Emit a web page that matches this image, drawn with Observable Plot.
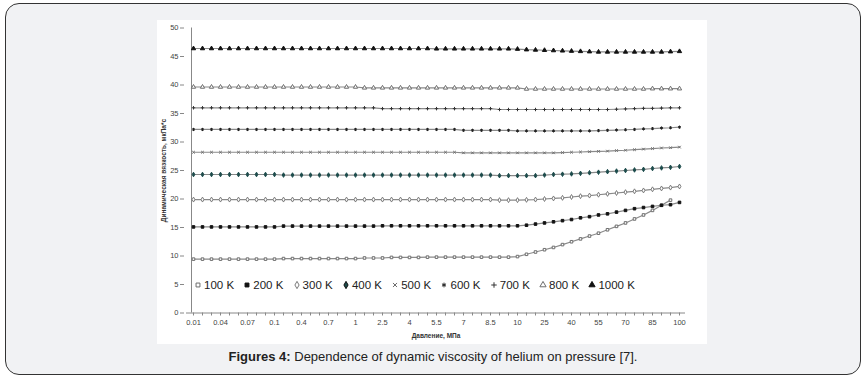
<!DOCTYPE html>
<html><head><meta charset="utf-8">
<script src="https://cdn.jsdelivr.net/npm/d3@7"></script>
<script src="https://cdn.jsdelivr.net/npm/@observablehq/plot@0.6"></script>
<style>
html,body{margin:0;padding:0;background:#fff;width:866px;height:382px;overflow:hidden;font-family:"Liberation Sans",Arial,sans-serif;}
#frame{position:absolute;left:5px;top:3px;width:854px;height:370px;border:1.5px solid #333;border-radius:14px;background:#f1f2f4;}
#panel{position:absolute;left:157px;top:20px;width:550px;height:324px;background:#fff;}
#legend{position:absolute;left:194px;top:277px;height:16px;display:flex;align-items:center;font-size:11.5px;color:#222;}
#legend .it{display:flex;align-items:center;width:49.3px;white-space:nowrap;}
#legend svg{margin-right:2px;}
#caption{position:absolute;left:0;width:866px;top:349px;text-align:center;font-size:13px;color:#222;}
</style></head>
<body>
<div id="frame"></div>
<div id="panel"></div>
<div id="legend"></div>
<div id="caption"><b>Figures 4:</b> Dependence of dynamic viscosity of helium on pressure [7].</div>
<script>
const pressures = ["0.01","0.02","0.03","0.04","0.05","0.06","0.07","0.08","0.09","0.1",
  "0.2","0.3","0.4","0.5","0.6","0.7","0.8","0.9","1",
  "1.5","2","2.5","3","3.5","4","4.5","5","5.5","6","6.5","7","7.5","8","8.5","9","9.5","10",
  "15","20","25","30","35","40","45","50","55","60","65","70","75","80","85","90","95","100"];
const tickLabels = ["0.01","0.04","0.07","0.1","0.4","0.7","1","2.5","4","5.5","7","8.5","10","25","40","55","70","85","100"];
const seriesNames = ["100 K","200 K","300 K","400 K","500 K","600 K","700 K","800 K","1000 K"];
const v100 = [9.45,9.45,9.45,9.45,9.45,9.45,9.45,9.45,9.45,9.45,
  9.55,9.55,9.55,9.55,9.55,9.55,9.55,9.55,9.55,
  9.65,9.65,9.65,9.75,9.75,9.75,9.75,
  9.8,9.8,9.8,9.8,9.8,9.8,9.8,9.8,9.8,9.8,
  9.9,10.3,10.7,11.1,11.5,12.0,12.5,13.0,13.5,14.0,14.6,15.2,15.8,16.5,17.2,18.0,18.9,19.8];
const v200 = [15.1,15.1,15.1,15.1,15.1,15.1,15.1,15.1,15.1,15.1,
  15.25,15.25,15.25,15.25,15.25,15.25,15.25,15.25,15.25,15.25,15.25,
  15.3,15.3,15.3,15.3,15.3,15.3,15.3,15.3,15.3,15.3,15.3,15.3,15.3,15.3,15.3,
  15.3,15.4,15.6,15.8,16.0,16.2,16.4,16.7,16.9,17.2,17.4,17.7,18.0,18.3,18.5,18.7,18.9,19.0,19.4];
const v300 = [19.9,19.9,19.9,19.9,19.9,19.9,19.9,19.9,19.9,19.9,19.9,19.9,19.9,19.9,19.9,19.9,19.9,
  19.9,19.9,19.9,19.9,19.9,19.9,19.9,19.9,19.9,19.9,19.9,19.9,19.9,19.9,19.9,19.9,19.9,
  19.8,19.8,
  19.8,19.85,19.9,20.0,20.1,20.2,20.35,20.5,20.6,20.75,20.9,21.05,21.2,21.35,21.5,21.7,21.85,22.0,22.2];
const v400 = [24.3,24.3,24.3,24.3,24.3,24.3,24.3,24.3,24.3,24.3,
  24.2,24.2,24.2,24.2,24.2,24.2,24.2,24.2,24.2,24.2,24.2,24.2,24.2,24.2,24.2,24.2,24.2,24.2,24.2,24.2,24.2,24.2,24.2,24.2,
  24.1,24.1,24.1,24.1,24.1,
  24.2,24.3,24.35,24.4,24.5,24.6,24.7,24.8,24.9,25.0,25.1,25.2,25.35,25.45,25.55,25.7];
const v500 = [28.2,28.2,28.2,28.2,28.2,28.2,28.2,28.2,28.2,28.2,28.2,28.2,28.2,28.2,28.2,
  28.2,28.2,28.2,28.2,28.2,28.2,28.2,28.2,28.2,28.2,28.2,28.2,28.2,28.2,28.2,
  28.1,28.1,28.1,28.1,28.1,28.1,28.1,28.1,28.1,28.1,28.1,
  28.15,28.2,28.25,28.3,28.35,28.4,28.5,28.55,28.65,28.75,28.85,28.95,29.0,29.1];
const v600 = [32.2,32.2,32.2,32.2,32.2,32.2,32.2,32.2,32.2,32.2,32.2,32.2,32.2,32.2,32.2,
  32.2,32.2,32.2,32.2,32.2,32.2,32.2,32.2,32.2,32.2,32.2,32.2,32.2,32.2,32.2,
  32.05,32.05,32.05,32.05,32.05,32.05,
  31.95,31.95,31.95,31.95,31.95,31.95,31.95,31.95,31.95,
  32.0,32.05,32.1,32.15,32.2,32.3,32.35,32.45,32.5,32.6];
const v700 = [36.0,36.0,36.0,36.0,36.0,36.0,36.0,36.0,36.0,36.0,36.0,36.0,36.0,36.0,36.0,36.0,36.0,36.0,36.0,36.0,36.0,
  35.85,35.85,35.85,35.85,35.85,35.85,35.85,35.85,35.85,35.85,35.85,35.85,35.85,
  35.7,35.7,35.7,35.7,35.7,35.7,35.7,35.7,35.7,35.7,35.7,35.7,35.7,
  35.75,35.8,35.85,35.9,35.9,35.95,36.0,36.0];
const v800 = [39.65,39.65,39.65,39.65,39.65,39.65,39.65,39.65,39.65,39.65,39.65,39.65,39.65,39.65,39.65,39.65,39.65,39.65,39.65,
  39.5,39.5,39.5,39.5,39.5,39.5,39.5,39.5,39.5,39.5,39.5,39.5,39.5,39.5,39.5,39.5,39.5,39.5,
  39.3,39.3,39.3,39.3,39.3,39.3,39.3,39.3,39.3,39.3,39.3,39.3,39.3,39.3,
  39.35,39.35,39.35,39.35];
const v1000 = [46.4,46.4,46.4,46.4,46.4,46.4,46.4,46.4,46.4,46.4,46.4,46.4,46.4,46.4,46.4,46.4,46.4,46.4,46.4,46.4,46.4,46.4,46.4,46.4,46.4,46.4,46.4,
  46.35,46.35,46.35,46.35,46.35,46.35,46.35,46.35,46.35,
  46.3,46.2,46.15,46.1,46.05,46.0,45.95,45.9,45.85,
  45.8,45.8,45.8,45.8,45.8,45.8,45.8,45.8,
  45.85,45.9];
const yTicks = [0,5,10,15,20,25,30,35,40,45,50];

const values = [v100,v200,v300,v400,v500,v600,v700,v800,v1000];
const styles = [
  {symbol:"square", fill:"#fff", stroke:"#6d6d6d", r:1.45, lr:2.2},
  {symbol:"square", fill:"#111", stroke:"#111", r:1.45, lr:2.2},
  {symbol:"diamond", fill:"#fff", stroke:"#7a7a7a", r:1.5, lr:2.2},
  {symbol:"diamond", fill:"#1d4c4c", stroke:"#1d4c4c", r:1.4, lr:2.2},
  {symbol:"times", fill:"none", stroke:"#6d6d6d", r:1.3, lr:2.0},
  {symbol:"asterisk", fill:"none", stroke:"#222", r:1.5, lr:2.2},
  {symbol:"plus", fill:"none", stroke:"#333", r:1.2, lr:1.9},
  {symbol:"triangle", fill:"#fff", stroke:"#6d6d6d", r:1.6, lr:2.3},
  {symbol:"triangle", fill:"#111", stroke:"#111", r:1.6, lr:2.3}
];
const rows = [];
values.forEach((arr, s) => arr.forEach((v, i) => rows.push({series: seriesNames[s], p: pressures[i], v})));

const marks = [
  Plot.ruleY([0], {stroke:"#888", strokeWidth:1}),
  Plot.ruleX([pressures[0]], {stroke:"#888", strokeWidth:1, dx:-2}),
  Plot.axisY({ticks: yTicks, tickSize:4, tickPadding:2, fontSize:7.5, fill:"#444", stroke:"#888", label:null, dx:-2}),
  Plot.axisX({ticks: pressures, tickSize:3, tickPadding:4, fontSize:7.5, fill:"#444", stroke:"#888", label:null,
    tickFormat: d => tickLabels.includes(d) ? d : ""}),
  Plot.line(rows, {x:"p", y:"v", z:"series", stroke:"#8a8a8a", strokeWidth:1.2}),
  ...seriesNames.map((name, s) => Plot.dot(rows.filter(r => r.series === name), {
    x:"p", y:"v", symbol: styles[s].symbol, fill: styles[s].fill, stroke: styles[s].stroke, r: styles[s].r, strokeWidth:1})),
  Plot.text(["Давление, МПа"], {frameAnchor:"bottom", dy:25, fontWeight:"bold", fontSize:6.5, fill:"#333"}),
  Plot.text(["Динамическая вязкость, мкПа*с"], {frameAnchor:"left", textAnchor:"middle", dx:-23, rotate:-90, fontWeight:"bold", fontSize:6.5,
    fill:"#333", fontFamily:"'Liberation Sans Narrow', 'Arial Narrow', sans-serif"})
];

const chart = Plot.plot({
  width:550, height:324,
  marginLeft:29, marginRight:22, marginTop:7.5, marginBottom:31.5,
  x:{type:"point", domain: pressures, padding:0.1},
  y:{domain:[0,50]},
  style:{background:"transparent", fontFamily:"'Liberation Sans', Arial, sans-serif"},
  marks
});
chart.style.position = "absolute";
chart.style.left = "157px";
chart.style.top = "20px";
document.body.appendChild(chart);

// Legend
const leg = document.getElementById("legend");
const symMap = {square:d3.symbolSquare, diamond:d3.symbolDiamond, times:d3.symbolTimes, asterisk:d3.symbolAsterisk, plus:d3.symbolPlus, triangle:d3.symbolTriangle};
seriesNames.forEach((name, s) => {
  const st = styles[s];
  const it = document.createElement("div");
  it.className = "it";
  const size = st.lr * st.lr * Math.PI;
  const path = d3.symbol(symMap[st.symbol], size)();
  it.innerHTML = `<svg width="8" height="10" viewBox="-4 -5 8 10"><path d="${path}" fill="${st.fill}" stroke="${st.stroke === '#1d4c4c' ? '#111' : st.stroke}" stroke-width="1"/></svg><span>${name}</span>`;
  leg.appendChild(it);
});
</script>
</body></html>
